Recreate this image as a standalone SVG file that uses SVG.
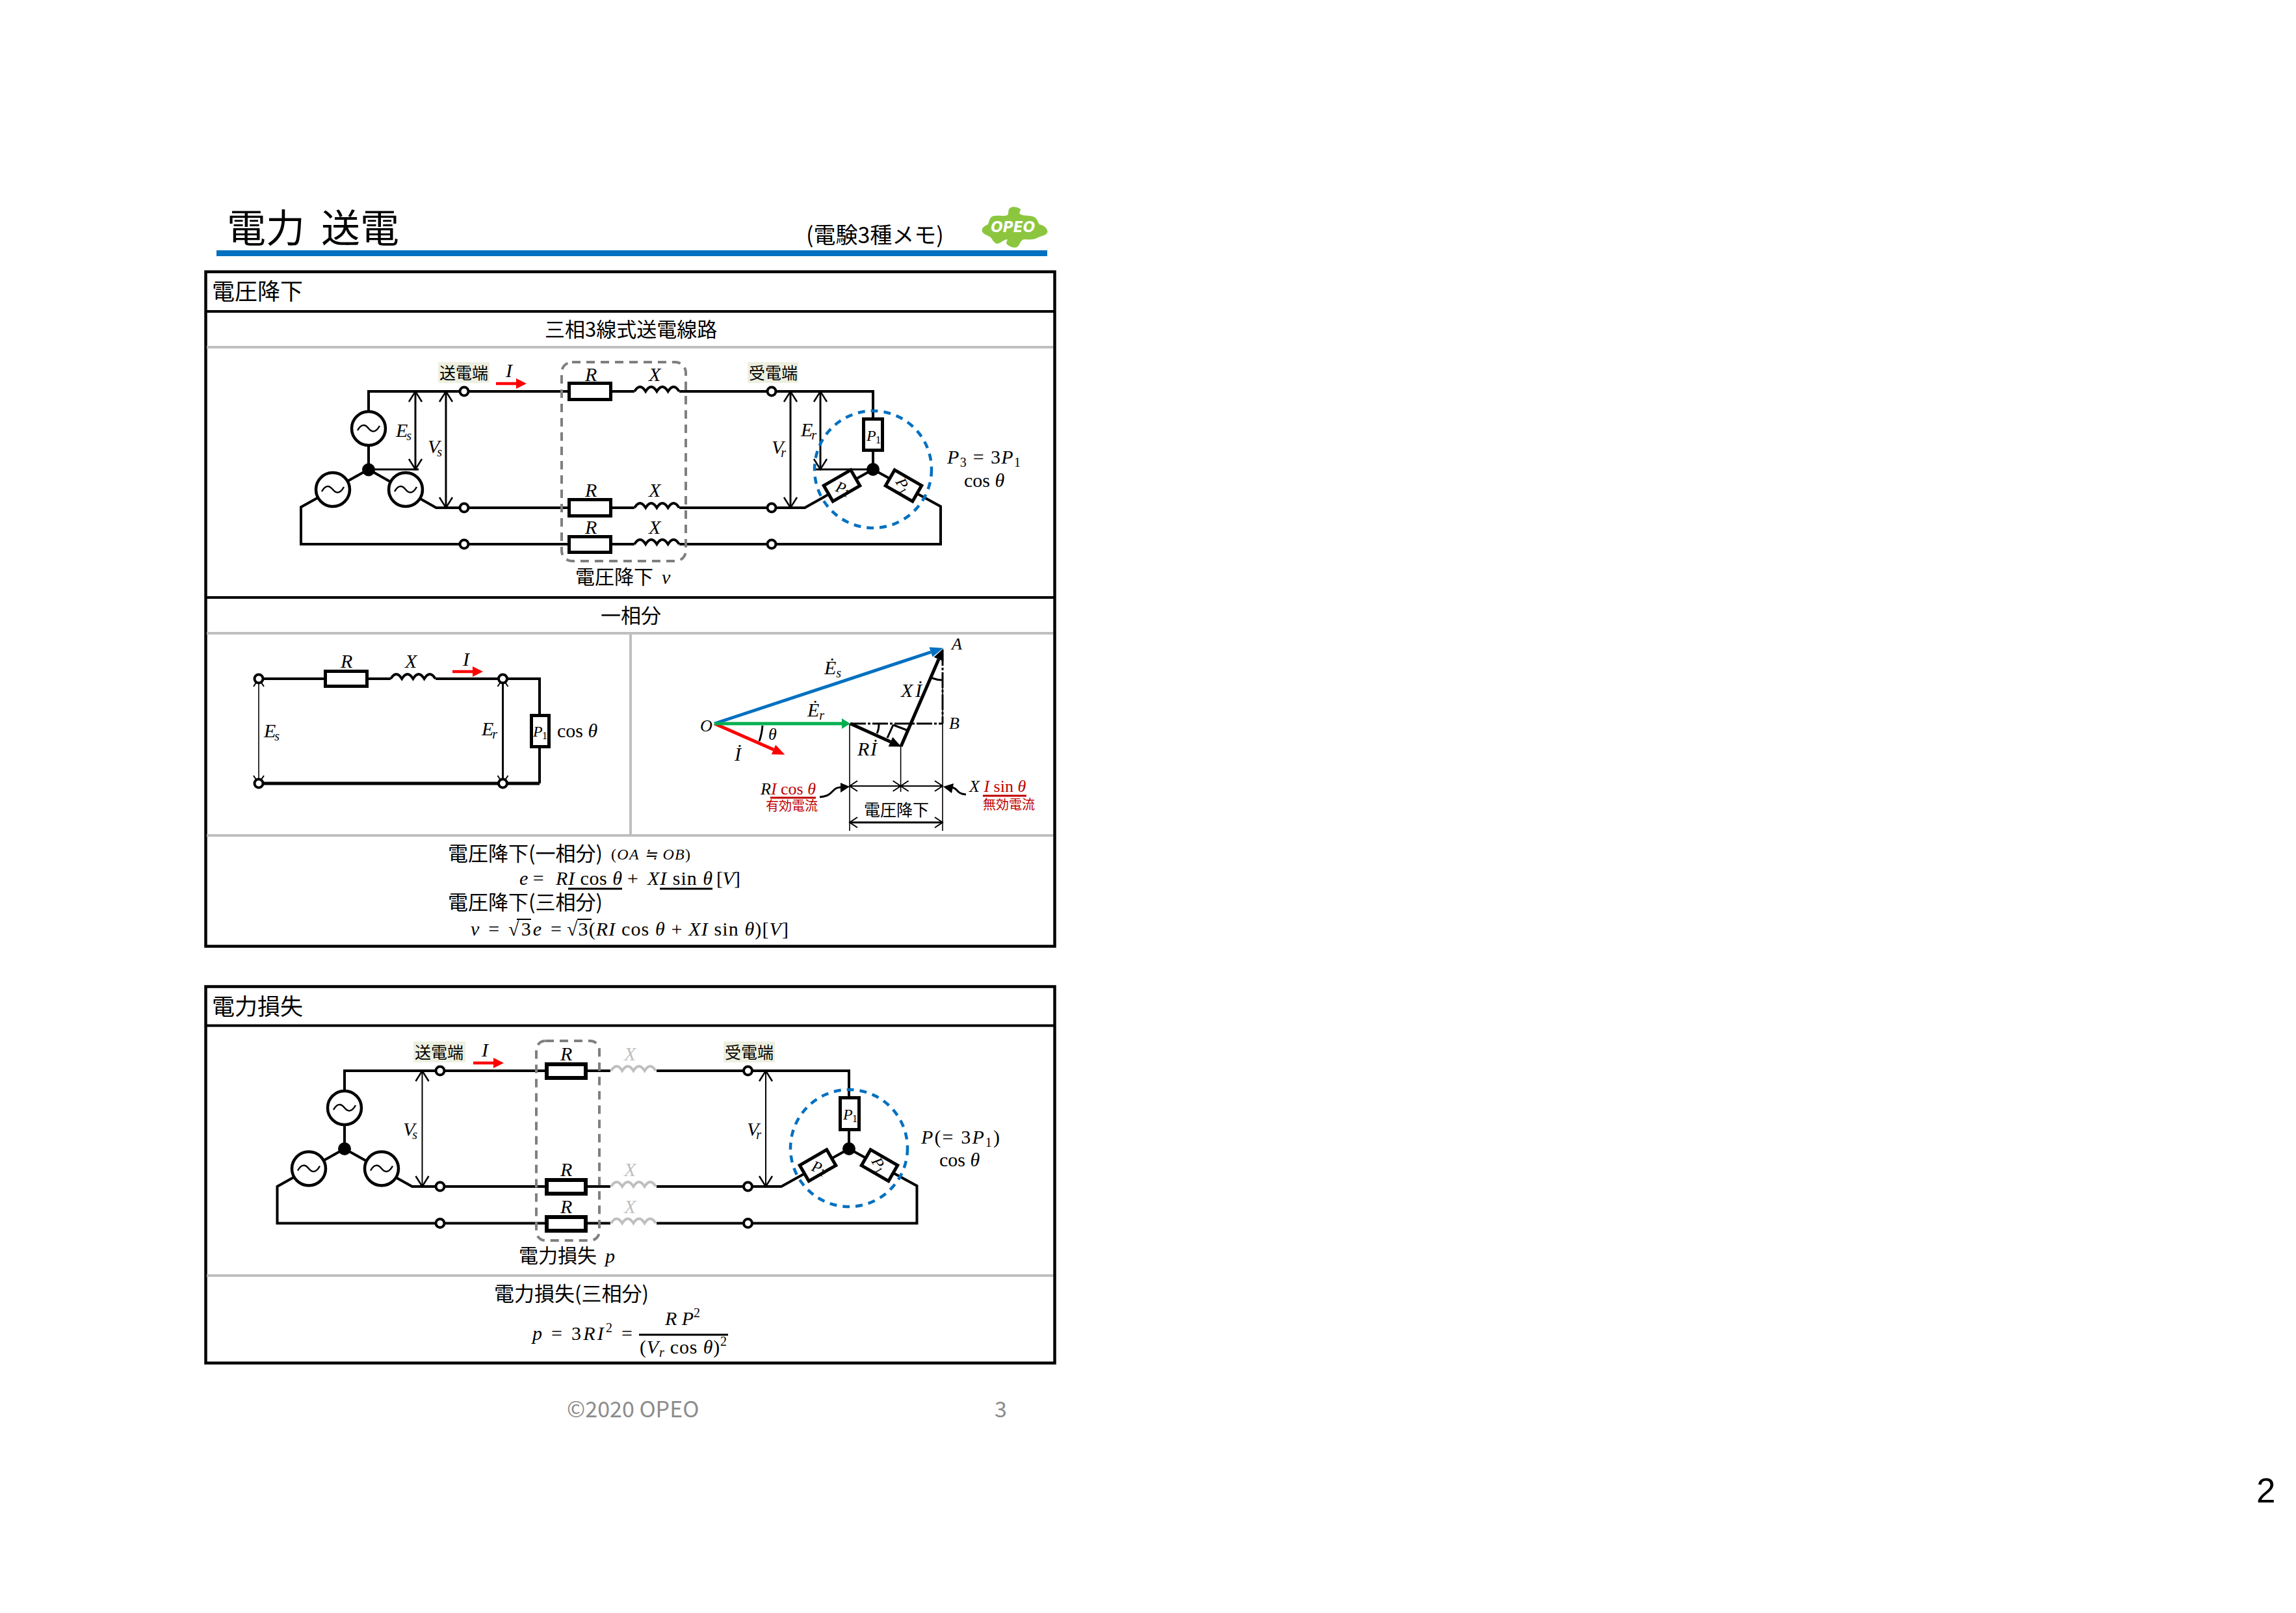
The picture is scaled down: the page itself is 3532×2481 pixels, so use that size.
<svg xmlns="http://www.w3.org/2000/svg" width="3532" height="2481" viewBox="0 0 3532 2481">
<style>
text{font-family:"Noto Sans CJK JP","Noto Sans",sans-serif;fill:#000}
.m,.m2,.p{font-family:"Liberation Serif","Noto Serif",serif;font-size:30px}
.m2{font-size:26px}
.p{font-size:24px}
.i{font-style:italic}
.s{font-size:20px;font-style:italic}
.sn{font-size:20px;font-style:normal}
.ps{font-size:17px;font-style:normal}
.r{fill:#c00000}
.j{font-size:31px}
.h{font-size:35px}
.t{font-size:25px}
.w{fill:none;stroke:#000;stroke-width:4}
.th{fill:none;stroke:#000;stroke-width:3}
.tn{fill:none;stroke:#000;stroke-width:1.6}
.box{fill:none;stroke:#000;stroke-width:4.5}
.ln{stroke:#000;stroke-width:4}
.gl{stroke:#bfbfbf;stroke-width:4}
.res{fill:#fff;stroke:#000;stroke-width:5}
.res3{fill:#fff;stroke:#000;stroke-width:6}
.term{fill:#fff;stroke:#000;stroke-width:4}
.src{fill:#fff;stroke:#000;stroke-width:4.5}
.til{fill:none;stroke:#000;stroke-width:2.5}
.coil{fill:none;stroke:#000;stroke-width:4}
.coilg{fill:none;stroke:#bfbfbf;stroke-width:4}
.dash{fill:none;stroke:#7f7f7f;stroke-width:4;stroke-dasharray:13 9}
.dc{fill:none;stroke:#0070c0;stroke-width:4.5;stroke-dasharray:11 9}
.lab{fill:#edf0e0}
.red{stroke:#f00;stroke-width:4.5;fill:none}
.foot{fill:#8c8c8c;font-size:34px}
</style>
<defs>
<marker id="oa" markerUnits="userSpaceOnUse" orient="auto-start-reverse" overflow="visible" markerWidth="20" markerHeight="24" refX="0" refY="0"><path d="M-16 -10L0 0L-16 10" fill="none" stroke="#000" stroke-width="2.5"/></marker>
<marker id="os" markerUnits="userSpaceOnUse" orient="auto-start-reverse" overflow="visible" markerWidth="16" markerHeight="20" refX="0" refY="0"><path d="M-12 -8L0 0L-12 8" fill="none" stroke="#000" stroke-width="2"/></marker>
<marker id="hb" markerUnits="userSpaceOnUse" orient="auto" overflow="visible" markerWidth="24" markerHeight="24" refX="0" refY="0"><path d="M0 -8L20 0L0 8Z" fill="#0070c0"/></marker>
<marker id="hg" markerUnits="userSpaceOnUse" orient="auto" overflow="visible" markerWidth="24" markerHeight="24" refX="0" refY="0"><path d="M0 -8L13 0L0 8Z" fill="#00b050"/></marker>
<marker id="hr" markerUnits="userSpaceOnUse" orient="auto" overflow="visible" markerWidth="24" markerHeight="24" refX="0" refY="0"><path d="M0 -8L19 0L0 8Z" fill="#f00"/></marker>
<marker id="hk" markerUnits="userSpaceOnUse" orient="auto" overflow="visible" markerWidth="24" markerHeight="24" refX="0" refY="0"><path d="M0 -8L18 0L0 8Z" fill="#000"/></marker>
<marker id="hd" markerUnits="userSpaceOnUse" orient="auto" overflow="visible" markerWidth="24" markerHeight="24" refX="0" refY="0"><path d="M0 -8L16 0L0 8Z" fill="#f00"/></marker>
<path id="cp" d="M0 1q8.600 -14 17.200 0q8.600 -14 17.200 0q8.600 -14 17.200 0q8.600 -14 17.200 0"/>
<g id="source"><circle class="src" r="26"/><path class="til" d="M-17 3C-11 -8 -5 -6 0 0S11 7 17 -4"/></g>
</defs>
<rect width="3532" height="2481" fill="#fff"/>

<g id="title">
<text x="349" y="373" style="font-size:60px">電力</text>
<text x="494" y="373" style="font-size:60px">送電</text>
<text x="1240" y="374" style="font-size:34px">(電験3種メモ)</text>
<rect x="333" y="385" width="1278" height="9" fill="#0070c0"/>
</g>
<g id="logo" transform="translate(1490 300) scale(.3333)">
<path d="M185 70C188 54 215 48 240 65C240 75 232 80 236 87C250 97 275 92 300 100C318 110 320 125 326 135C345 140 362 148 365 170C358 188 335 188 320 196C305 208 280 205 255 205C240 208 240 225 225 240C210 246 190 240 175 225C172 215 182 208 178 205C160 205 145 228 128 224C110 215 108 198 98 192C85 185 65 180 62 165C60 150 78 140 90 135C95 120 98 105 110 98C130 92 165 100 180 92C186 85 182 78 185 70Z" fill="#8cc63f"/>
<text x="103" y="172" textLength="204" lengthAdjust="spacingAndGlyphs" style="font-family:'DejaVu Sans',sans-serif;font-size:70px;font-weight:bold;font-style:italic;fill:#fff">OPEO</text>
</g>

<g id="frames">
<rect class="box" x="316.500" y="418" width="1306" height="1037.500"/>
<line class="ln" x1="316" y1="479" x2="1622" y2="479"/>
<line class="gl" x1="318" y1="534" x2="1620" y2="534"/>
<line class="ln" x1="316" y1="919" x2="1622" y2="919"/>
<line class="gl" x1="318" y1="974" x2="1620" y2="974"/>
<line class="gl" x1="970" y1="974" x2="970" y2="1285"/>
<line class="gl" x1="318" y1="1285" x2="1620" y2="1285"/>
<rect class="box" x="316.500" y="1517.500" width="1306" height="579"/>
<line class="ln" x1="316" y1="1577.500" x2="1622" y2="1577.500"/>
<line class="gl" x1="318" y1="1962" x2="1620" y2="1962"/>
</g>
<g id="headings">
<text class="h" x="326" y="461">電圧降下</text>
<text class="j" x="838" y="518">三相3線式送電線路</text>
<text class="j" x="924" y="958">一相分</text>
<text class="h" x="326" y="1561">電力損失</text>
</g>

<g id="connectors">
<path class="w" d="M567 722V602H875M940 602H976M1045 602H1343V722"/>
<path class="w" d="M1343 722L1238 781H1045M976 781H940M875 781H671L567 722L463 780V837H875M940 837H976M1045 837H1447V779L1343 722"/>
<path class="th" d="M567 722H644M1255 722H1343"/>
<path class="th" marker-start="url(#oa)" marker-end="url(#oa)" d="M639 602V722"/>
<path class="th" marker-start="url(#oa)" marker-end="url(#oa)" d="M686 602V781"/>
<path class="th" marker-start="url(#oa)" marker-end="url(#oa)" d="M1216 602V781"/>
<path class="th" marker-start="url(#oa)" marker-end="url(#oa)" d="M1262 602V722"/>
<path class="red" marker-end="url(#hd)" d="M763 590H794"/>
<path class="w" d="M398 1044H500M565 1044H601M670 1044H830V1100M830 1149V1205"/>
<path class="w" style="stroke-width:5" d="M398 1205H830"/>
<path class="tn" marker-start="url(#os)" marker-end="url(#os)" d="M398 1044V1205"/>
<path class="th" marker-start="url(#os)" marker-end="url(#os)" d="M773.500 1044V1205"/>
<path class="red" marker-end="url(#hd)" d="M696 1033H727"/>
<path class="tn" d="M1307 1113V1278M1385.600 1148V1218M1450 1046V1278"/>
<path class="th" stroke-dasharray="24 3 4 3" d="M1308 1113H1450M1450 1000V1113"/>
<path class="th" d="M1352 1114Q1352 1122 1349 1128M1374 1115L1365 1135M1374 1115L1395 1123M1173 1116Q1172 1129 1168 1140M1434 1043Q1442 1046 1449 1046"/>
<path stroke="#f00" stroke-width="5" fill="none" marker-end="url(#hr)" d="M1099 1113L1190 1153"/>
<path stroke="#000" stroke-width="5" fill="none" marker-end="url(#hk)" d="M1308 1113L1370 1141"/>
<path stroke="#000" stroke-width="5" fill="none" marker-end="url(#hk)" d="M1386 1148L1444 1014"/>
<path stroke="#0070c0" stroke-width="5" fill="none" marker-end="url(#hb)" d="M1099 1113L1432 1003"/>
<path stroke="#00b050" stroke-width="5" fill="none" marker-end="url(#hg)" d="M1099 1113H1295"/>
<path class="tn" style="stroke-width:2" marker-start="url(#os)" marker-end="url(#os)" d="M1307 1209H1385.600"/>
<path class="tn" style="stroke-width:2" marker-start="url(#os)" marker-end="url(#os)" d="M1385.600 1209H1450"/>
<path class="th" marker-start="url(#os)" marker-end="url(#os)" d="M1307 1265H1450"/>
<path class="th" d="M1261 1226C1285 1224 1278 1210 1295 1211"/>
<polygon points="1293,1204 1307,1210 1293,1219"/>
<path class="th" d="M1486 1222C1470 1221 1475 1212 1463 1211"/>
<polygon points="1451,1210 1467,1205 1464,1220"/>
<path class="w" d="M530 1767V1647H838M903 1647H939M1010 1647H1306V1767"/>
<path class="w" d="M1306 1767L1202 1825H1010M939 1825H903M838 1825H634L530 1767L426.500 1825V1881.500H838M903 1881.500H939M1010 1881.500H1410.500V1824L1306 1767"/>
<path class="tn" style="stroke-width:2" marker-start="url(#oa)" marker-end="url(#oa)" d="M649.500 1647V1825"/>
<path class="tn" style="stroke-width:2" marker-start="url(#oa)" marker-end="url(#oa)" d="M1178 1647V1825"/>
<path class="red" marker-end="url(#hd)" d="M728 1635H759"/>
</g>

<g id="s1-sources">
<use href="#source" x="567" y="659"/><use href="#source" x="512" y="753"/><use href="#source" x="624" y="753"/>
<circle cx="567" cy="722.500" r="10"/>
<text class="m i" x="609" y="672">E<tspan class="s" dy="5" dx="-2">s</tspan></text>
<text class="m i" x="658" y="697">V<tspan class="s" dy="5" dx="-4">s</tspan></text>
</g>
<g id="s1-send">
<rect class="lab" x="674" y="557" width="79" height="32"/>
<text class="t" x="676" y="583">送電端</text>
<circle class="term" cx="714" cy="602" r="6.500"/><circle class="term" cx="714" cy="781" r="6.500"/><circle class="term" cx="714" cy="837" r="6.500"/>
<text class="m i" x="778" y="580">I</text>
</g>
<g id="s1-receive">
<rect class="lab" x="1150" y="557" width="78" height="32"/>
<text class="t" x="1152" y="583">受電端</text>
<circle class="term" cx="1187" cy="602" r="6.500"/><circle class="term" cx="1187" cy="781" r="6.500"/><circle class="term" cx="1187" cy="837" r="6.500"/>
<text class="m i" x="1187" y="698">V<tspan class="s" dy="5" dx="-4">r</tspan></text>
<text class="m i" x="1232" y="671">E<tspan class="s" dy="5" dx="-2">r</tspan></text>
</g>
<g id="s1-line-r-x">
<rect class="res" x="875.500" y="589.500" width="64" height="25"/><rect class="res" x="875.500" y="768.500" width="64" height="25"/><rect class="res" x="875.500" y="825.500" width="64" height="24"/>
<use href="#cp" class="coil" x="976" y="601"/><use href="#cp" class="coil" x="976" y="780"/><use href="#cp" class="coil" x="976" y="836"/>
<text class="m i" x="900" y="586">R</text><text class="m i" x="998" y="586">X</text>
<text class="m i" x="900" y="764">R</text><text class="m i" x="998" y="764">X</text>
<text class="m i" x="900" y="821">R</text><text class="m i" x="998" y="821">X</text>
<rect class="dash" x="864" y="557" width="191" height="306" rx="16"/>
<text style="font-size:30px" x="885" y="898">電圧降下</text><text class="m i" x="1018" y="898">v</text>
</g>
<g id="s1-load">
<rect class="res" x="1328.500" y="644.500" width="29" height="48"/>
<text class="p i" x="1333" y="678">P<tspan class="ps" dy="4" dx="-1">1</tspan></text>
<g transform="translate(1295 747) rotate(-30)"><rect class="res" x="-24" y="-14" width="48" height="28"/></g>
<text class="p i" transform="translate(1284 755) rotate(20)">P<tspan class="ps" dy="3" dx="-1">1</tspan></text>
<g transform="translate(1390 747) rotate(30)"><rect class="res" x="-24" y="-14" width="48" height="28"/></g>
<text class="p i" transform="translate(1377 741) rotate(60)">P<tspan class="ps" dy="3" dx="-1">1</tspan></text>
<circle cx="1343" cy="722" r="10"/>
<circle class="dc" cx="1343" cy="722" r="90"/>
<text class="m" x="1457" y="713" textLength="113"><tspan class="i">P</tspan><tspan class="sn" dy="5">3</tspan><tspan dy="-5"> = 3</tspan><tspan class="i">P</tspan><tspan class="sn" dy="5">1</tspan></text>
<text class="m" x="1483" y="749">cos <tspan class="i">θ</tspan></text>
</g>

<g id="s2-circuit">
<rect class="res" x="500.500" y="1032.500" width="64" height="23"/>
<use href="#cp" class="coil" x="601" y="1043"/>
<rect class="res" x="817.500" y="1100.500" width="27" height="48"/>
<circle class="term" cx="398" cy="1044" r="6.500"/><circle class="term" cx="398" cy="1205" r="6.500"/><circle class="term" cx="773.500" cy="1044" r="6.500"/><circle class="term" cx="773.500" cy="1205" r="6.500"/>
<text class="m i" x="524" y="1027">R</text><text class="m i" x="623" y="1027">X</text><text class="m i" x="712" y="1024">I</text>
<text class="p i" x="820" y="1133">P<tspan class="ps" dy="4" dx="-1">1</tspan></text>
<text class="m" x="857" y="1134">cos <tspan class="i">θ</tspan></text>
<text class="m i" x="406" y="1134">E<tspan class="s" dy="5" dx="-2">s</tspan></text>
<text class="m i" x="741" y="1131">E<tspan class="s" dy="5" dx="-2">r</tspan></text>
</g>
<g id="s2-phasor">
<text class="m i" x="1268" y="1037">Ė<tspan class="s" dy="5">s</tspan></text>
<text class="m i" x="1242" y="1102">Ė<tspan class="s" dy="5">r</tspan></text>
<text class="m2 i" x="1077" y="1125">O</text><text class="m2 i" x="1464" y="999">A</text><text class="m2 i" x="1460" y="1121">B</text>
<text class="m2 i" x="1182" y="1138">θ</text>
<text class="m i" x="1130" y="1170">İ</text>
<text class="m i" x="1386" y="1072" textLength="32">X İ</text>
<text class="m i" x="1319" y="1162" textLength="30">R İ</text>
<text class="t" x="1329" y="1255">電圧降下</text>
<text class="m2 i" x="1170" y="1222">R<tspan class="r">I </tspan><tspan class="r" style="font-style:normal">cos </tspan><tspan class="r">θ</tspan></text>
<line x1="1185" y1="1227" x2="1255" y2="1227" stroke="#c00000" stroke-width="3"/>
<text class="r" x="1178" y="1247" style="font-size:20px">有効電流</text>
<text class="m2 i" x="1491" y="1218">X <tspan class="r">I </tspan><tspan class="r" style="font-style:normal">sin </tspan><tspan class="r">θ</tspan></text>
<line x1="1512" y1="1224" x2="1579" y2="1224" stroke="#c00000" stroke-width="3"/>
<text class="r" x="1512" y="1245" style="font-size:20px">無効電流</text>
</g>
<g id="s2-formulas">
<text class="j" x="689" y="1324">電圧降下(一相分)</text>
<text class="m i" x="940" y="1322" textLength="122" style="font-size:24px"><tspan style="font-style:normal">(</tspan>OA ≒ OB<tspan style="font-style:normal">)</tspan></text>
<text class="m" x="799" y="1361"><tspan class="i">e</tspan> =</text>
<text class="m" x="855" y="1361" textLength="102"><tspan class="i">RI</tspan> cos <tspan class="i">θ</tspan></text>
<text class="m" x="965" y="1361">+</text>
<text class="m" x="996" y="1361" textLength="100"><tspan class="i">XI</tspan> sin <tspan class="i">θ</tspan></text>
<text class="m" x="1102" y="1361" textLength="37">[<tspan class="i">V</tspan>]</text>
<line class="th" x1="874" y1="1367" x2="957" y2="1367"/><line class="th" x1="1015" y1="1367" x2="1096" y2="1367"/>
<text class="j" x="689" y="1399">電圧降下(三相分)</text>
<text class="m" x="724" y="1439" textLength="140"><tspan class="i">v</tspan> = √3<tspan class="i">e</tspan> =</text>
<text class="m" x="872" y="1439" textLength="341">√3(<tspan class="i">RI</tspan> cos <tspan class="i">θ</tspan> + <tspan class="i">XI</tspan> sin <tspan class="i">θ</tspan>)[<tspan class="i">V</tspan>]</text>
<line class="tn" style="stroke-width:2" x1="795" y1="1414" x2="817" y2="1414"/><line class="tn" style="stroke-width:2" x1="888" y1="1414" x2="910" y2="1414"/>
</g>

<g id="s3-sources">
<use href="#source" x="530" y="1704"/><use href="#source" x="475" y="1797.500"/><use href="#source" x="587" y="1797.500"/>
<circle cx="530" cy="1767" r="10"/>
<text class="m i" x="620" y="1747">V<tspan class="s" dy="5" dx="-4">s</tspan></text>
</g>
<g id="s3-send">
<rect class="lab" x="636" y="1602" width="80" height="32"/>
<text class="t" x="638" y="1628">送電端</text>
<circle class="term" cx="677" cy="1647" r="6.500"/><circle class="term" cx="677" cy="1825" r="6.500"/><circle class="term" cx="677" cy="1881.500" r="6.500"/>
<text class="m i" x="741" y="1625">I</text>
</g>
<g id="s3-receive">
<rect class="lab" x="1113" y="1602" width="79" height="32"/>
<text class="t" x="1115" y="1628">受電端</text>
<circle class="term" cx="1150.500" cy="1647" r="6.500"/><circle class="term" cx="1150.500" cy="1825" r="6.500"/><circle class="term" cx="1150.500" cy="1881.500" r="6.500"/>
<text class="m i" x="1149" y="1747">V<tspan class="s" dy="5" dx="-4">r</tspan></text>
</g>
<g id="s3-line-r-x">
<rect class="res3" x="841" y="1637" width="60" height="21"/><rect class="res3" x="841" y="1815" width="60" height="21"/><rect class="res3" x="841" y="1872" width="60" height="21"/>
<use href="#cp" class="coilg" x="940" y="1646"/><use href="#cp" class="coilg" x="940" y="1824"/><use href="#cp" class="coilg" x="940" y="1880.500"/>
<text class="m i" x="862" y="1631">R</text><text class="m i" x="862" y="1809">R</text><text class="m i" x="862" y="1866">R</text>
<text class="m i" x="960" y="1631" style="fill:#bfbfbf">X</text><text class="m i" x="960" y="1809" style="fill:#bfbfbf">X</text><text class="m i" x="960" y="1866" style="fill:#bfbfbf">X</text>
<rect class="dash" x="825" y="1601" width="97" height="307" rx="14"/>
<text style="font-size:30px" x="798" y="1942">電力損失</text><text class="m i" x="931" y="1942">p</text>
</g>
<g id="s3-load">
<rect class="res" x="1292.500" y="1688.500" width="29" height="49"/>
<text class="p i" x="1297" y="1722">P<tspan class="ps" dy="4" dx="-1">1</tspan></text>
<g transform="translate(1258 1792.500) rotate(-30)"><rect class="res" x="-24" y="-14" width="48" height="28"/></g>
<text class="p i" transform="translate(1247 1800) rotate(20)">P<tspan class="ps" dy="3" dx="-1">1</tspan></text>
<g transform="translate(1353 1792.500) rotate(30)"><rect class="res" x="-24" y="-14" width="48" height="28"/></g>
<text class="p i" transform="translate(1340 1786) rotate(60)">P<tspan class="ps" dy="3" dx="-1">1</tspan></text>
<circle cx="1306" cy="1767" r="10"/>
<circle class="dc" cx="1306" cy="1766" r="90"/>
<text class="m" x="1417" y="1759" textLength="121"><tspan class="i">P</tspan>(= 3<tspan class="i">P</tspan><tspan class="sn" dy="5">1</tspan><tspan dy="-5">)</tspan></text>
<text class="m" x="1445" y="1794">cos <tspan class="i">θ</tspan></text>
</g>
<g id="s3-formulas">
<text class="j" x="760" y="2001">電力損失(三相分)</text>
<text class="m" x="819" y="2061" textLength="154"><tspan class="i">p</tspan> = 3<tspan class="i">RI</tspan><tspan class="sn" dy="-12">2</tspan><tspan dy="12"> =</tspan></text>
<text class="m" x="1023" y="2038" textLength="54"><tspan class="i">R P</tspan><tspan class="sn" dy="-12">2</tspan></text>
<line class="th" x1="983" y1="2053" x2="1120" y2="2053"/>
<text class="m" x="984" y="2082" textLength="134">(<tspan class="i">V</tspan><tspan class="s" dy="5">r</tspan><tspan dy="-5"> cos </tspan><tspan class="i">θ</tspan>)<tspan class="sn" dy="-12">2</tspan></text>
</g>
<g id="footer">
<text class="foot" x="872" y="2180">©2020 OPEO</text>
<text class="foot" x="1530" y="2180">3</text>
<text x="3471" y="2311" style="font-family:'Liberation Sans',sans-serif;font-size:53px">2</text>
</g>
</svg>
